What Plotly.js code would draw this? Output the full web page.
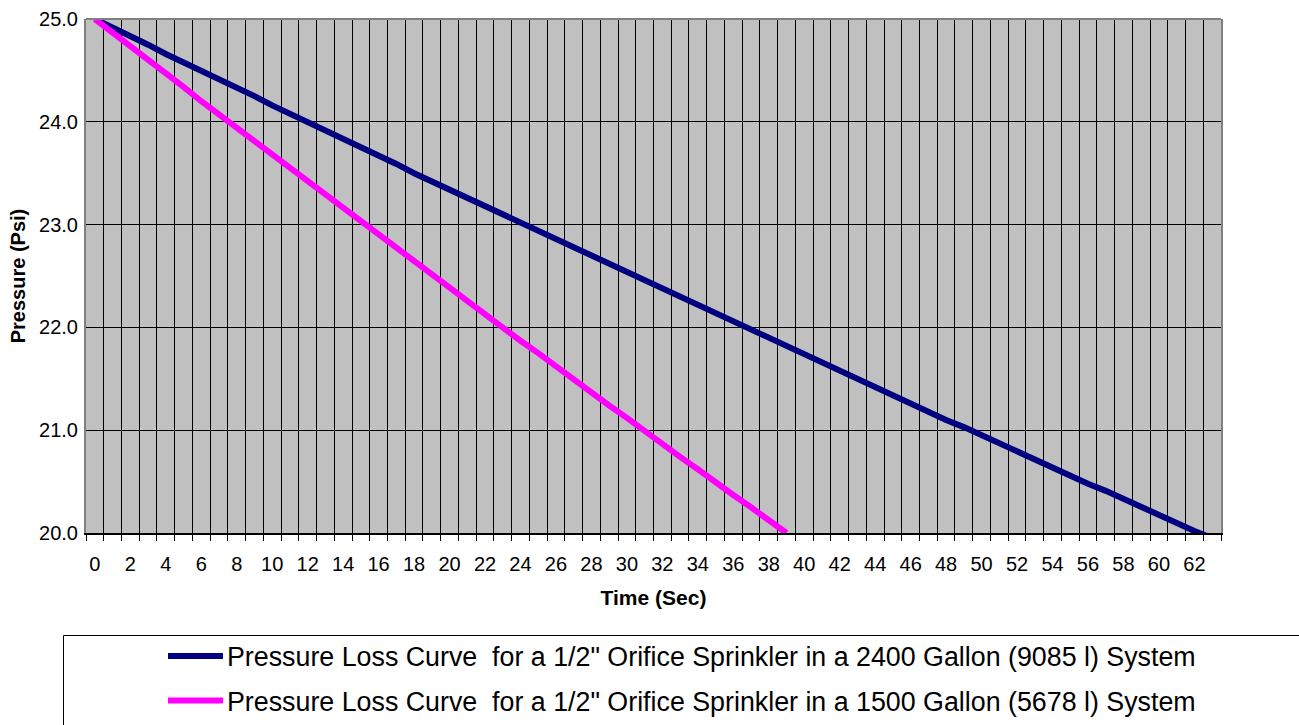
<!DOCTYPE html>
<html>
<head>
<meta charset="utf-8">
<script src="https://cdn.plot.ly/plotly-3.0.1.min.js"></script>
<style>
  html, body { margin: 0; padding: 0; background: #fff; }
  #chart { width: 1299px; height: 725px; }
</style>
</head>
<body>
<div id="chart"></div>
<script>
// ---- data ----
const timeSec = [];
for (let i = 0; i <= 63; i++) timeSec.push(i);

const series2400Name = 'Pressure Loss Curve \u00a0for a 1/2" Orifice Sprinkler in a 2400 Gallon (9085 l) System';
const series2400 = [
  25.00, 24.92, 24.83, 24.75, 24.66, 24.58, 24.50, 24.41, 24.33, 24.25,
  24.16, 24.08, 24.00, 23.92, 23.83, 23.75, 23.67, 23.59, 23.50, 23.42,
  23.34, 23.26, 23.18, 23.10, 23.01, 22.93, 22.85, 22.77, 22.69, 22.61,
  22.53, 22.45, 22.37, 22.29, 22.21, 22.13, 22.05, 21.97, 21.89, 21.81,
  21.73, 21.65, 21.57, 21.50, 21.42, 21.34, 21.26, 21.18, 21.10, 21.03,
  20.95, 20.87, 20.79, 20.72, 20.64, 20.56, 20.48, 20.41, 20.33, 20.25,
  20.18, 20.10, 20.02, 19.95
];

const series1500Name = 'Pressure Loss Curve \u00a0for a 1/2" Orifice Sprinkler in a 1500 Gallon (5678 l) System';
const series1500 = [
  25.00, 24.87, 24.73, 24.60, 24.47, 24.34, 24.20, 24.07, 23.94, 23.81,
  23.68, 23.55, 23.42, 23.29, 23.16, 23.03, 22.90, 22.77, 22.64, 22.51,
  22.38, 22.25, 22.13, 22.00, 21.87, 21.75, 21.62, 21.49, 21.37, 21.24,
  21.12, 20.99, 20.87, 20.74, 20.62, 20.49, 20.37, 20.25, 20.12, 20.00
];

const xTickVals = [];
const xTickText = [];
for (let i = 0; i <= 62; i += 2) { xTickVals.push(i); xTickText.push(String(i)); }
const yTickVals = [20, 21, 22, 23, 24, 25];

const xTitle = 'Time (Sec)';
const yTitle = 'Pressure (Psi)';
const colors = ['#000080', '#FF00FF'];

// ---- layout helpers (pixel -> paper) ----
const W = 1299, H = 725;
const M = { l: 86, r: 78, t: 19, b: 192 };
const PW = W - M.l - M.r, PH = H - M.t - M.b;
const px = v => (v - M.l) / PW;
const py = v => (H - M.b - v) / PH;

const traces = [
  { x: timeSec.slice(0, series2400.length), y: series2400, name: series2400Name,
    type: 'scatter', mode: 'lines', line: { color: colors[0], width: 6 } },
  { x: timeSec.slice(0, series1500.length), y: series1500, name: series1500Name,
    type: 'scatter', mode: 'lines', line: { color: colors[1], width: 6 } }
];

const font = 'Arial, "Liberation Sans", sans-serif';

const shapes = [
  // top border of plot area
  { type: 'line', xref: 'paper', yref: 'paper', x0: 0, x1: 1, y0: 1, y1: 1,
    line: { color: '#808080', width: 2 }, layer: 'above' },
  // legend frame
  { type: 'rect', xref: 'paper', yref: 'paper', x0: px(63.5), x1: px(1340), y0: py(635.5), y1: py(760),
    line: { color: '#000', width: 1 }, fillcolor: 'rgba(0,0,0,0)' }
];
const annotations = [];
const legendRows = [657, 701.5];
[series2400Name, series1500Name].forEach((nm, i) => {
  shapes.push({ type: 'line', xref: 'paper', yref: 'paper', x0: px(168), x1: px(223),
    y0: py(legendRows[i] - 1), y1: py(legendRows[i] - 1), line: { color: colors[i], width: 6 } });
  annotations.push({ xref: 'paper', yref: 'paper', x: px(224.5), y: py(legendRows[i]),
    xanchor: 'left', yanchor: 'middle', showarrow: false, text: nm,
    font: { family: font, size: 26.8, color: '#000' } });
});

const layout = {
  width: W, height: H,
  margin: M,
  paper_bgcolor: '#ffffff',
  plot_bgcolor: '#C0C0C0',
  showlegend: false,
  font: { family: font, color: '#000' },
  xaxis: {
    type: 'linear',
    range: [-0.5, 63.5],
    tickmode: 'array', tickvals: xTickVals, ticktext: xTickText,
    ticks: '', showgrid: false, zeroline: false,
    ticklabelstandoff: 12,
    tickfont: { family: font, size: 20, color: '#000' },
    showline: true, linecolor: '#000', linewidth: 2,
    minor: { tick0: -0.5, dtick: 1, ticks: 'outside', ticklen: 6, tickcolor: '#000', tickwidth: 1,
             showgrid: true, gridcolor: '#000', gridwidth: 1 },
    title: { text: '<b>' + xTitle + '</b>', font: { family: font, size: 21, color: '#000' }, standoff: 16 }
  },
  yaxis: {
    range: [20, 25],
    tickmode: 'array', tickvals: yTickVals, tickformat: '.1f',
    ticks: '', showgrid: true, gridcolor: '#000', gridwidth: 1, zeroline: false,
    tickfont: { family: font, size: 20, color: '#000' },
    ticklabelstandoff: 2,
    showline: true, linecolor: '#808080', linewidth: 2, mirror: true,
    title: { text: '<b>' + yTitle + '</b>', font: { family: font, size: 20, color: '#000' }, standoff: 8 }
  },
  shapes: shapes,
  annotations: annotations
};

Plotly.newPlot('chart', traces, layout, { displayModeBar: false, staticPlot: true });
</script>
</body>
</html>
